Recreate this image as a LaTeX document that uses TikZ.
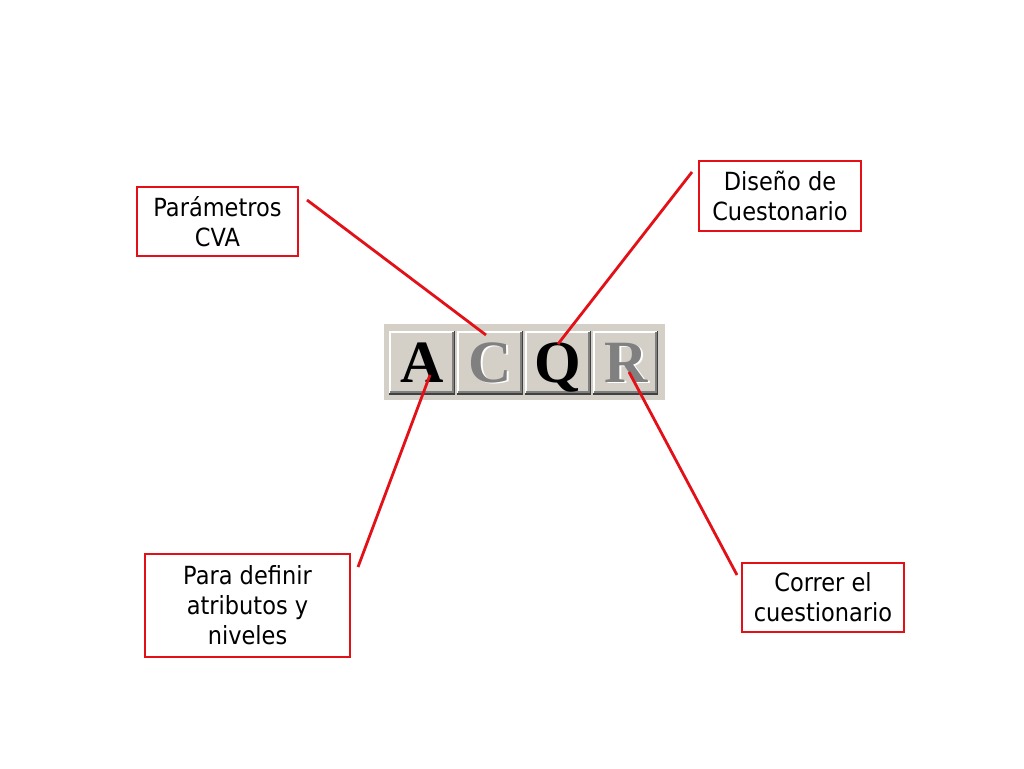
\documentclass[tikz,border=0pt]{standalone}
\usepackage{fontspec}
\setmainfont{DejaVu Sans}[FakeStretch=0.9]
\newfontfamily\btnfont{Liberation Serif}
\definecolor{lblred}{RGB}{228,16,24}
\definecolor{btngray}{RGB}{212,208,200}
\definecolor{btndark}{RGB}{128,128,128}
\definecolor{btnshadow}{RGB}{64,64,64}
\newcommand{\shadowed}[1]{\makebox[0pt][l]{\kern1.8pt\raisebox{-1.8pt}{\color{white}#1}}\textcolor{btndark}{#1}}
\begin{document}
\begin{tikzpicture}[x=1pt,y=-1pt,
  lbl/.style={draw=lblred,line width=2.8pt,align=center,inner sep=0pt,
    font=\fontsize{25}{30}\selectfont},
  conn/.style={draw=lblred,line width=2.8pt},
  letter/.style={anchor=base,inner sep=0pt,font=\btnfont\bfseries\fontsize{60}{60}\selectfont}]
\useasboundingbox (0,0) rectangle (1024,768);
\fill[white] (0,0) rectangle (1024,768);
% toolbar
\fill[btngray] (384,324) rectangle (665,400);
\foreach \l/\r in {389/455,457/523,525/591,593/658}{
  \fill[btngray] (\l,331) rectangle (\r,394);
  \fill[white] (\l,331) rectangle (\r-1,333);
  \fill[white] (\l,331) rectangle (\l+2,393);
  \fill[btndark] (\l+1,391) rectangle (\r,393);
  \fill[btndark] (\r-3,332) rectangle (\r-1,393);
  \fill[btnshadow] (\l,393) rectangle (\r,395);
  \fill[btnshadow] (\r-1,331) rectangle (\r,395);
}
\node[letter] (la) at (422,382) {A};
\node[letter] (lc) at (490,382) {\shadowed{C}};
\node[letter] (lq) at (558,382) {Q};
\node[letter] (lr) at (626,382) {\shadowed{R}};
% labels
\node[lbl,minimum width=161pt,minimum height=69pt] (p) at (217.5,221.5) {Parámetros\\CVA};
\node[lbl,minimum width=162pt,minimum height=70pt] (d) at (780,196) {Diseño de\\Cuestonario};
\node[lbl,minimum width=205pt,minimum height=103pt] (a) at (247.5,605.5) {Para definir\\atributos y\\niveles};
\node[lbl,minimum width=162pt,minimum height=69pt] (c) at (823,597.5) {Correr el\\cuestionario};
% connector ends
\coordinate (ps) at (307,200);
\coordinate (pe) at (486,335);
\coordinate (ds) at (692,172);
\coordinate (de) at (558,344);
\coordinate (as) at (358,567);
\coordinate (ae) at (430,375);
\coordinate (cs) at (737,575);
\coordinate (ce) at (629,372);
\draw[conn] (ps) -- (pe);
\draw[conn] (ds) -- (de);
\draw[conn] (as) -- (ae);
\draw[conn] (cs) -- (ce);
\end{tikzpicture}
\end{document}
